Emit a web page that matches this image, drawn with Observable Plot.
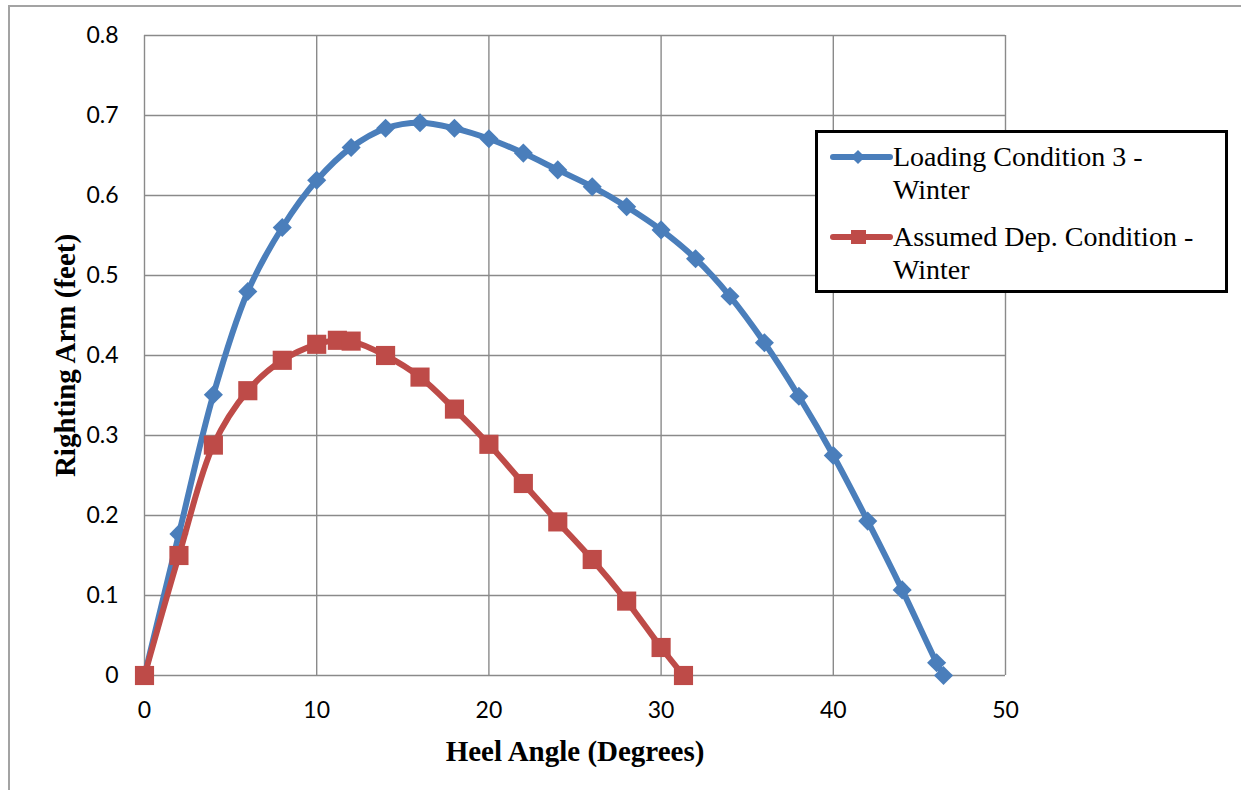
<!DOCTYPE html>
<html>
<head>
<meta charset="utf-8">
<script src="https://cdn.jsdelivr.net/npm/d3@7"></script>
<script src="https://cdn.jsdelivr.net/npm/@observablehq/plot@0.6"></script>
<style>
  html, body { margin: 0; padding: 0; background: #fff; }
  #wrap { position: relative; width: 1241px; height: 790px; overflow: hidden; background: #fff; }
  #border { position: absolute; left: 8px; top: 5px; right: -10px; bottom: -10px; border-left: 2px solid #a3a3a3; border-top: 2px solid #a3a3a3; pointer-events: none; }
  #legend { position: absolute; left: 815px; top: 130px; width: 413px; height: 163px; box-sizing: border-box; border: 3px solid #000; background: #fff; font-family: "Liberation Serif", "Times New Roman", serif; font-size: 28px; line-height: 33px; color: #000; }
  .entry { position: absolute; left: 0; }
  .entry svg { position: absolute; left: 12px; }
  .entry .lbl { position: absolute; left: 75px; white-space: nowrap; }
</style>
</head>
<body>
<div id="wrap">
  <div id="chart"></div>
  <div id="border"></div>
  <div id="legend"></div>
</div>
<script>
// ---- data ----
const seriesNames = ["Loading Condition 3 -\nWinter", "Assumed Dep. Condition -\nWinter"];
const seriesColors = ["#4a7ebb", "#be4b48"];

const heelLoading = [0, 2, 4, 6, 8, 10, 12, 14, 16, 18, 20, 22, 24, 26, 28, 30, 32, 34, 36, 38, 40, 42, 44, 46, 46.4];
const armLoading  = [0, 0.177, 0.351, 0.480, 0.560, 0.619, 0.660, 0.684, 0.691, 0.684, 0.671, 0.653, 0.632, 0.611, 0.586, 0.557, 0.521, 0.474, 0.416, 0.349, 0.275, 0.193, 0.107, 0.016, 0];

const heelAssumed = [0, 2, 4, 6, 8, 10, 11.2, 12, 14, 16, 18, 20, 22, 24, 26, 28, 30, 31.3];
const armAssumed  = [0, 0.150, 0.288, 0.356, 0.394, 0.414, 0.419, 0.418, 0.400, 0.373, 0.333, 0.289, 0.240, 0.192, 0.145, 0.093, 0.035, 0];

const xTicks = [0, 10, 20, 30, 40, 50];
const xTickLabels = ["0", "10", "20", "30", "40", "50"];
const yTicks = [0, 0.1, 0.2, 0.3, 0.4, 0.5, 0.6, 0.7, 0.8];
const yTickLabels = ["0", "0.1", "0.2", "0.3", "0.4", "0.5", "0.6", "0.7", "0.8"];

const xTitle = "Heel Angle (Degrees)";
const yTitle = "Righting Arm (feet)";

// ---- build tables ----
const loading = heelLoading.map((h, i) => ({heel: h, arm: armLoading[i]}));
const assumed = heelAssumed.map((h, i) => ({heel: h, arm: armAssumed[i]}));

const gridColor = "#8a8a8a";

const chart = Plot.plot({
  width: 1241,
  height: 790,
  marginLeft: 144,
  marginRight: 236,
  marginTop: 35,
  marginBottom: 115,
  style: {fontFamily: "Lato, sans-serif", fontSize: "23px", color: "#000", background: "transparent"},
  x: {domain: [0, 50]},
  y: {domain: [0, 0.8]},
  marks: [
    Plot.gridX(xTicks, {stroke: gridColor, strokeOpacity: 1, strokeWidth: 1.4}),
    Plot.gridY(yTicks, {stroke: gridColor, strokeOpacity: 1, strokeWidth: 1.4}),
    Plot.axisX({ticks: xTicks, tickSize: 0, tickPadding: 26, tickFormat: d => xTickLabels[xTicks.indexOf(d)], label: null, fontSize: 23}),
    Plot.axisY({ticks: yTicks, tickSize: 0, tickPadding: 26, tickFormat: d => yTickLabels[yTicks.indexOf(d)], label: null, fontSize: 23}),
    Plot.line(loading, {x: "heel", y: "arm", stroke: seriesColors[0], strokeWidth: 6, curve: "catmull-rom"}),
    Plot.dot(loading, {x: "heel", y: "arm", symbol: "diamond2", r: 8.6, fill: seriesColors[0], stroke: "none"}),
    Plot.line(assumed, {x: "heel", y: "arm", stroke: seriesColors[1], strokeWidth: 6, curve: "catmull-rom"}),
    Plot.dot(assumed, {x: "heel", y: "arm", symbol: "square", r: 10.8, fill: seriesColors[1], stroke: "none"}),
    Plot.text([xTitle], {frameAnchor: "bottom", dy: 76, text: d => d, fontFamily: "Liberation Serif, serif", fontWeight: "bold", fontSize: 29, fill: "#000", lineAnchor: "middle"}),
    Plot.text([yTitle], {frameAnchor: "left", dx: -79, rotate: -90, text: d => d, fontFamily: "Liberation Serif, serif", fontWeight: "bold", fontSize: 29, fill: "#000", lineAnchor: "middle", textAnchor: "middle"})
  ]
});
document.getElementById("chart").appendChild(chart);

// ---- legend ----
const legend = document.getElementById("legend");
const entryTops = [7, 87];
seriesNames.forEach((name, i) => {
  const e = document.createElement("div");
  e.className = "entry";
  e.style.top = entryTops[i] + "px";
  const marker = i === 0
    ? `<rect x="23" y="4" width="10" height="10" transform="rotate(45 28 9)" fill="${seriesColors[i]}"/>`
    : `<rect x="21" y="2" width="15" height="14" fill="${seriesColors[i]}"/>`;
  e.innerHTML = `<svg width="64" height="18" style="top:${16.5 - 9}px">
      <line x1="3" y1="9" x2="60" y2="9" stroke="${seriesColors[i]}" stroke-width="6" stroke-linecap="round"/>
      ${marker}
    </svg>
    <div class="lbl">${name.replace("\n", "<br>")}</div>`;
  legend.appendChild(e);
});
</script>
</body>
</html>
